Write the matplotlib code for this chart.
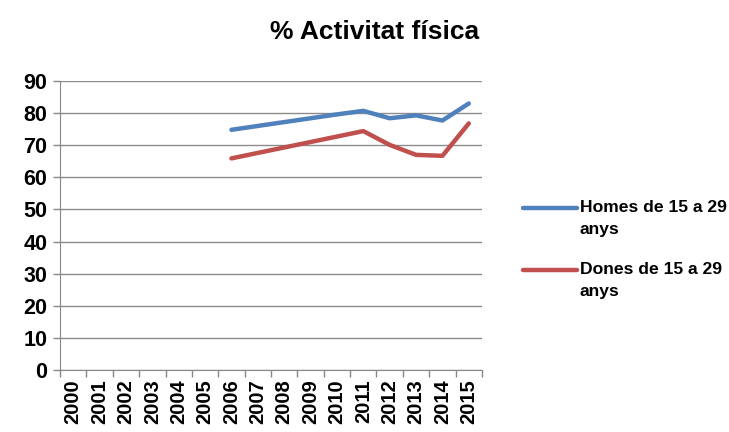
import matplotlib.pyplot as plt
from matplotlib.lines import Line2D

# Data
years = [str(y) for y in range(2000, 2016)]
homes = [None, None, None, None, None, None, 74.8, 76.0, 77.2, 78.4, 79.6, 80.7, 78.4, 79.3, 77.7, 83.0]
dones = [None, None, None, None, None, None, 65.9, 67.6, 69.3, 71.0, 72.7, 74.4, 70.1, 67.0, 66.7, 76.8]
labels = ["Homes de 15 a 29\nanys", "Dones de 15 a 29\nanys"]
colors = ["#4F81BD", "#C0504D"]

plt.rcParams['font.family'] = ["Liberation Sans", "DejaVu Sans"]
plt.rcParams['font.weight'] = 'bold'

fig = plt.figure(figsize=(7.29, 4.32), dpi=100)
ax = fig.add_axes([60 / 729, 1 - 370 / 432, 422 / 729, 289 / 432])

x = list(range(len(years)))
for series, c in zip([homes, dones], colors):
    xs = [i for i, v in zip(x, series) if v is not None]
    ys = [v for v in series if v is not None]
    ax.plot(xs, ys, color=c, linewidth=3.2, solid_capstyle='round', solid_joinstyle='round')

ax.set_xlim(-0.5, len(years) - 0.5)
ax.set_ylim(0, 90)
ax.set_yticks(range(0, 91, 10))
ax.tick_params(axis='y', labelsize=15.5, length=5, color='#888888', width=1, pad=4)
ax.set_xticks(x)
ax.set_xticklabels(years, rotation=90, fontsize=14.5)
ax.set_xticks([i - 0.5 for i in range(len(years) + 1)], minor=True)
ax.tick_params(axis='x', which='major', length=0, pad=7)
ax.tick_params(axis='x', which='minor', length=5, color='#888888', width=1)
ax.grid(axis='y', color='#8c8c8c', linewidth=1)
ax.set_axisbelow(True)
for side in ['top', 'right']:
    ax.spines[side].set_visible(False)
ax.spines['left'].set_color('#888888')
ax.spines['bottom'].set_color('#888888')

fig.text(375 / 729, 1 - 32 / 432, "% Activitat física", ha='center', va='center',
         fontsize=19, fontweight='bold')

# Legend drawn in figure coordinates
for i, (lab, c) in enumerate(zip(labels, colors)):
    yl = 1 - (208 + i * 62) / 432
    fig.add_artist(Line2D([523 / 729, 577 / 729], [yl, yl], color=c, linewidth=3.2,
                          solid_capstyle='round', transform=fig.transFigure))
    fig.text(580 / 729, yl + 8 / 432, lab, ha='left', va='top', fontsize=12.6,
             fontweight='bold', linespacing=1.6)

fig.savefig("out.png", dpi=100)
